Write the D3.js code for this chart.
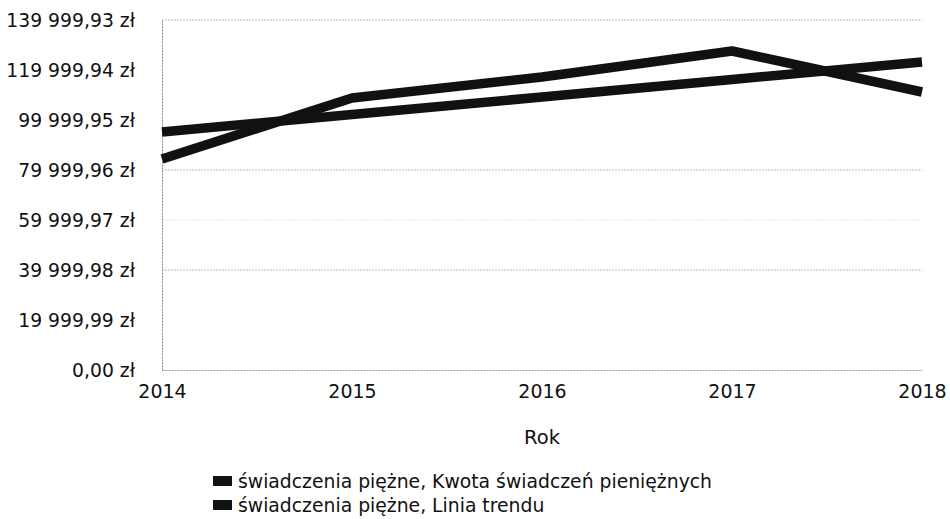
<!DOCTYPE html>
<html>
<head>
<meta charset="utf-8">
<script src="https://cdn.jsdelivr.net/npm/d3@7"></script>
<style>
  body { margin: 0; background: #fff; }
  svg { display: block; }
  text { font-family: "DejaVu Sans", Verdana, sans-serif; fill: #111; }
</style>
</head>
<body>
<svg id="chart" width="950" height="519"></svg>
<script>
const years = [2014, 2015, 2016, 2017, 2018];
const amounts = [84400, 108800, 117200, 127600, 111200];
const trend = [95200, 102200, 109200, 116200, 123200];
const yTicks = [0, 19999.99, 39999.98, 59999.97, 79999.96, 99999.95, 119999.94, 139999.93];
const yTickLabels = ["0,00 zł", "19 999,99 zł", "39 999,98 zł", "59 999,97 zł", "79 999,96 zł", "99 999,95 zł", "119 999,94 zł", "139 999,93 zł"];
const gridShown = [39999.98, 59999.97, 79999.96, 139999.93];
const seriesNames = ["świadczenia piężne, Kwota świadczeń pieniężnych", "świadczenia piężne, Linia trendu"];
const xTitle = "Rok";

const svg = d3.select("#chart");
const m = { left: 162, right: 922, top: 20, bottom: 370 };

const x = d3.scaleLinear().domain([2014, 2018]).range([m.left, m.right]);
const y = d3.scaleLinear().domain([0, 139999.93]).range([m.bottom, m.top]);

// gridlines
svg.append("g").selectAll("line").data(gridShown).join("line")
  .attr("x1", m.left).attr("x2", m.right)
  .attr("y1", d => y(d)).attr("y2", d => y(d))
  .attr("stroke", d => d === 59999.97 ? "#e6e6e6" : "#b8b8b8")
  .attr("stroke-width", 1)
  .attr("stroke-dasharray", "2,1");

// y axis
const yAxis = d3.axisLeft(y).tickValues(yTicks)
  .tickFormat((d, i) => yTickLabels[i]).tickSize(0).tickPadding(27);
const gy = svg.append("g").attr("transform", `translate(${m.left},0)`).call(yAxis);
gy.select(".domain").attr("stroke", "#888").attr("stroke-dasharray", "2,1");
gy.selectAll("text").attr("font-size", "18.8px").attr("font-family", "DejaVu Sans, sans-serif").attr("fill", "#111").attr("dy", "0.36em");

// x axis
const xAxis = d3.axisBottom(x).tickValues(years).tickFormat(d3.format("d")).tickSize(0).tickPadding(15);
const gx = svg.append("g").attr("transform", `translate(0,${m.bottom})`).call(xAxis);
gx.select(".domain").attr("stroke", "#999").attr("stroke-dasharray", "2,1");
gx.selectAll("text").attr("font-size", "19px").attr("font-family", "DejaVu Sans, sans-serif").attr("fill", "#111");

// x title
svg.append("text").attr("x", (m.left + m.right) / 2).attr("y", 444)
  .attr("text-anchor", "middle").attr("font-size", "19.5px").text(xTitle);

// lines
const line = d3.line().x((d, i) => x(years[i])).y(d => y(d));
svg.append("path").datum(trend).attr("d", line)
  .attr("fill", "none").attr("stroke", "#111").attr("stroke-width", 9.5);
svg.append("path").datum(amounts).attr("d", line)
  .attr("fill", "none").attr("stroke", "#111").attr("stroke-width", 9.5)
  .attr("stroke-linejoin", "round");

// legend
const lg = svg.append("g").selectAll("g").data(seriesNames).join("g")
  .attr("transform", (d, i) => `translate(213,${481 + i * 24})`);
lg.append("rect").attr("x", 0).attr("y", -5).attr("width", 19).attr("height", 10).attr("fill", "#111");
lg.append("text").attr("x", 25).attr("y", 0).attr("dy", "0.36em")
  .attr("font-size", "18.8px").text(d => d);
</script>
</body>
</html>
